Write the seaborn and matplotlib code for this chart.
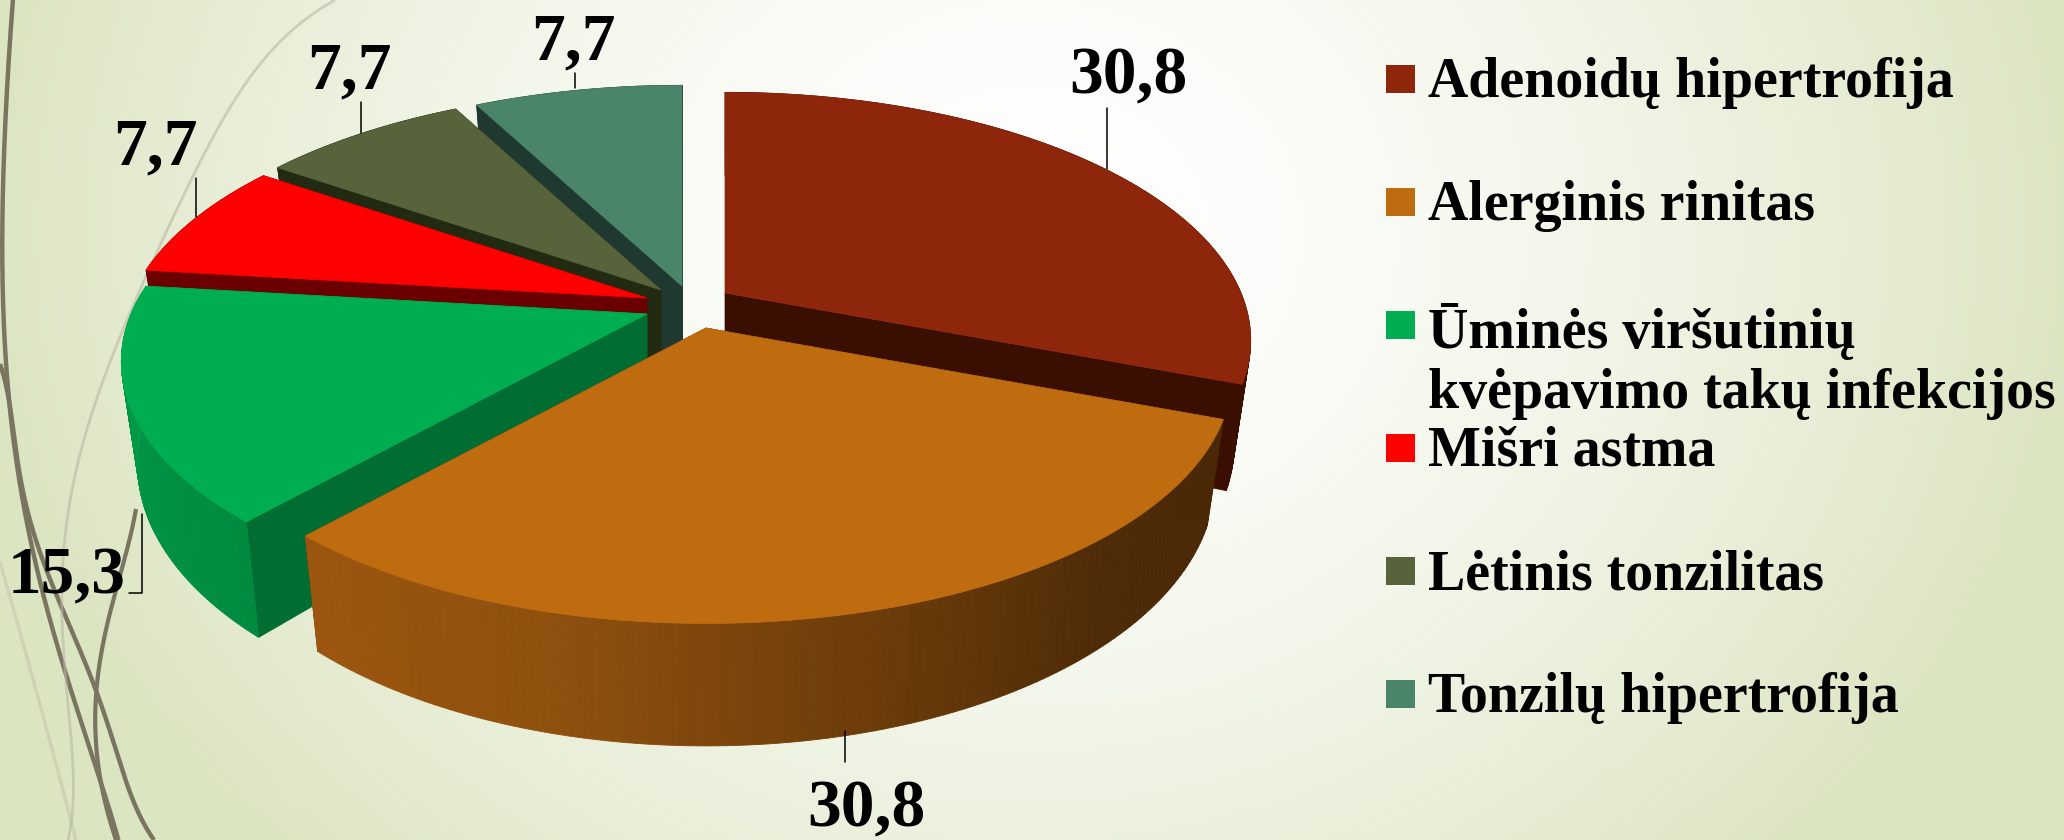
import numpy as np
import matplotlib
matplotlib.use("Agg")
import matplotlib.pyplot as plt
import seaborn as sns

# Donnees
categories = ["Adenoidų hipertrofija", "Alerginis rinitas",
              "Ūminės viršutinių\nkvėpavimo takų infekcijos",
              "Mišri astma", "Lėtinis tonzilitas", "Tonzilų hipertrofija"]
values = [30.8, 30.8, 15.3, 7.7, 7.7, 7.7]

# Couleurs : dessus, coupe, paroi exterieure
top_colors = ["#8E260C", "#BF6B10", "#00AD50", "#FF0000", "#57633A", "#4A8469"]
cut_colors = ["#3A0F02", "#4A2806", "#006E32", "#6A0000", "#232A12", "#1F3830"]
wall_colors = [["#3A0F02", "#3A0F02"],
               ["#4A2806", "#4E2B07", "#6E3D0A", "#8F500E", "#9C5610"],
               ["#008A40", "#009E4A"],
               ["#6A0000", "#6A0000"], ["#232A12", "#232A12"], ["#1F3830", "#1F3830"]]

# Mise en page (pixels de la figure)
apex = [(725, 293), (706, 328), (647, 314), (647, 298), (661, 290), (682, 286)]
draw_order = [5, 4, 3, 2, 0, 1]
label_pos = [(1128, 77), (866, 810), (67, 577), (155, 148), (349, 72), (573, 43)]
leaders = [[(1107, 108), (1107, 169)], [(845, 731), (845, 762)],
           [(142, 514), (142, 593), (129, 593)], [(196, 178), (196, 217)],
           [(361, 102), (361, 133)], [(575, 73), (575, 88)]]
legend_y = [79, 202, 325, 448, 571, 694]
legend_text_y = [83, 206, 361, 452, 575, 698]

sns.set_theme(style="white")
plt.rcParams["font.family"] = ["Liberation Serif", "DejaVu Serif"]

fig = plt.figure(figsize=(20.64, 8.4), dpi=100)
ax = fig.add_axes([0, 0, 1, 1])
ax.set_xlim(0, 2064)
ax.set_ylim(840, 0)
ax.axis("off")

# Fond degrade
xx, yy = np.meshgrid(np.linspace(0, 2064, 260), np.linspace(0, 840, 110))
dist = np.clip(np.hypot((xx - 1030) / 1050, (yy - 230) / 900), 0, 1) ** 1.6
bg = np.ones(xx.shape + (3,))
edge = np.array(matplotlib.colors.to_rgb("#DCE5C2"))
for i in range(3):
    bg[..., i] = 1 + (edge[i] - 1) * dist
ax.imshow(bg, extent=(0, 2064, 840, 0), aspect="auto", zorder=0)


# Courbes decoratives
def curve(points, color, lw, alpha=1.0):
    pts = np.array(points, dtype=float)
    t = np.r_[0, np.cumsum(np.hypot(*np.diff(pts, axis=0).T))]
    s = np.linspace(0, t[-1], 300)
    deg = min(5, len(pts) - 1)
    ax.plot(np.polyval(np.polyfit(t, pts[:, 0], deg), s),
            np.polyval(np.polyfit(t, pts[:, 1], deg), s),
            color=color, lw=lw, alpha=alpha, zorder=1, solid_capstyle="butt")


curve([(13, 0), (6, 107), (2, 214), (5, 321), (18, 482), (58, 643), (103, 793), (119, 840)], "#7A7560", 3.2)
curve([(0, 364), (13, 428), (27, 509), (54, 589), (98, 696), (154, 840)], "#7A7560", 3.2)
curve([(136, 509), (112, 605), (96, 696), (100, 777), (116, 840)], "#7A7560", 3.0)
curve([(335, 0), (201, 160), (120, 337), (76, 471), (62, 616), (68, 840)], "#B9B8A6", 2, 0.6)
curve([(0, 562), (45, 723), (76, 840)], "#B9B8A6", 2.5, 0.4)


# Projection du camembert
def project(theta, plane="top"):
    u, v = np.sin(np.radians(theta)), np.cos(np.radians(theta))
    den = 1 + 0.191 * v
    if plane == "top":
        return 516 * u / den, -239 * v / den
    return 500 * u / den, 99 - 258 * v / den


ends = np.cumsum(values) / np.sum(values) * 360
starts = ends - np.array(values) / np.sum(values) * 360

for i in draw_order:
    cx, cy = apex[i]
    th = np.linspace(starts[i], ends[i], 120)
    tx, ty = project(th)
    bx, by = project(th, "bottom")
    base_y = cy + 99

    # Coupes radiales
    for k in (0, -1):
        ax.fill([cx, cx + tx[k], cx + bx[k], cx], [cy, cy + ty[k], cy + by[k], base_y],
                color=cut_colors[i], lw=0.5, zorder=2 + draw_order.index(i))

    # Paroi exterieure
    grad = sns.blend_palette(wall_colors[i], len(th) - 1)
    for j in range(len(th) - 1):
        ax.fill([cx + tx[j], cx + tx[j + 1], cx + bx[j + 1], cx + bx[j]],
                [cy + ty[j], cy + ty[j + 1], cy + by[j + 1], cy + by[j]],
                color=grad[j], lw=0.6, zorder=2 + draw_order.index(i))

    # Dessus
    ax.fill(np.r_[cx, cx + tx], np.r_[cy, cy + ty], color=top_colors[i], lw=0.5,
            zorder=2 + draw_order.index(i))

# Etiquettes de valeurs
for i, v in enumerate(values):
    ax.text(*label_pos[i], f"{v:.1f}".replace(".", ","), ha="center", va="center",
            fontsize=48.5, fontweight="bold", color="black", zorder=10)
    pts = np.array(leaders[i])
    ax.plot(pts[:, 0], pts[:, 1], color="black", lw=1.1, zorder=10)

# Legende
for i, name in enumerate(categories):
    ax.fill([1386, 1415, 1415, 1386],
            [legend_y[i] - 14, legend_y[i] - 14, legend_y[i] + 14, legend_y[i] + 14],
            color=top_colors[i], lw=0, zorder=10)
    ax.text(1428, legend_text_y[i], name, ha="left", va="center", fontsize=40.2,
            fontweight="bold", color="black", linespacing=1.2, zorder=10)

fig.savefig("out.png", dpi=100)
plt.close(fig)
